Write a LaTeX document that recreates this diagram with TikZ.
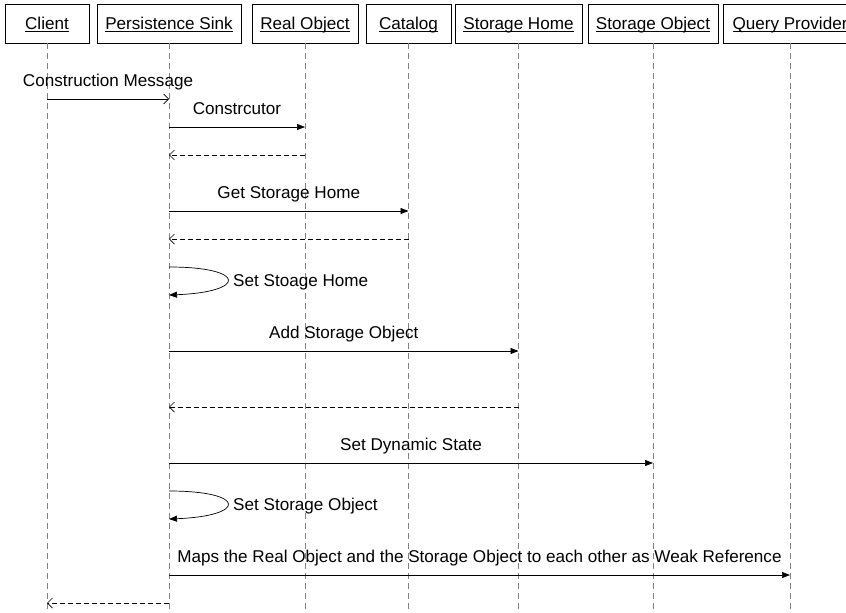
\documentclass[tikz,border=0pt]{standalone}
\usepackage{fontspec}
\setmainfont{Liberation Sans}
\usetikzlibrary{arrows.meta,calc}
\newcommand{\hdtext}[1]{\underline{\smash{#1}}}
\begin{document}
\begin{tikzpicture}[x=1pt,y=-1pt,
  txt/.style={font=\fontsize{17.1}{19}\selectfont},
  head/.style={txt,draw,line width=0.8pt,minimum height=39pt,inner sep=0pt,fill=white,text height=12.3pt,text depth=0pt},
  life/.style={draw=black!50,dash pattern=on 6pt off 4pt,line width=0.7pt},
  msg/.style={line width=0.7pt,-{Triangle[length=8pt,width=6pt]}},
  msgopen/.style={line width=0.7pt,-{Straight Barb[length=5pt,width=10pt]}},
  ret/.style={line width=0.7pt,dash pattern=on 5pt off 3pt,-{Straight Barb[length=5pt,width=10pt]}},
  lbl/.style={txt,anchor=base,yshift=13pt,inner sep=0pt,midway},
  slbl/.style={txt,anchor=base west,inner sep=0pt}
]
\useasboundingbox (0,0) rectangle (846,613);
\coordinate (bot) at (0,613);
% heads
\node[head,minimum width=84pt]  (cl) at (47,23.5)    {\hdtext{Client}};
\node[head,minimum width=144pt] (ps) at (169,23.5)   {\hdtext{Persistence Sink}};
\node[head,minimum width=106pt] (ro) at (305,23.5)   {\hdtext{Real Object}};
\node[head,minimum width=85pt]  (ca) at (408.5,23.5) {\hdtext{Catalog}};
\node[head,minimum width=127pt] (sh) at (518.5,23.5) {\hdtext{Storage Home}};
\node[head,minimum width=130pt] (so) at (653,23.5)   {\hdtext{Storage Object}};
\node[head,minimum width=134pt] (qp) at (790,23.5)   {\hdtext{Query Provider}};
% lifelines
\foreach \n in {cl,ps,ro,ca,sh,so,qp}{\draw[life] (\n.south) -- (\n.south |- bot);}
% message levels
\coordinate (m1) at (0,99);
\coordinate (m2) at (0,127);
\coordinate (m3) at (0,155);
\coordinate (m4) at (0,211);
\coordinate (m5) at (0,239);
\coordinate (m6a) at (0,267);
\coordinate (m6b) at (0,295);
\coordinate (m7) at (0,351);
\coordinate (m8) at (0,407);
\coordinate (m9) at (0,463);
\coordinate (m10a) at (0,491);
\coordinate (m10b) at (0,519);
\coordinate (m11) at (0,575);
\coordinate (m12) at (0,603);
% messages
\draw[msgopen] (cl |- m1) -- node[lbl]{Construction Message} (ps |- m1);
\draw[msg] (ps |- m2) -- node[lbl]{Constrcutor} (ro |- m2);
\draw[ret] (ro |- m3) -- (ps |- m3);
\draw[msg] (ps |- m4) -- node[lbl]{Get Storage Home} (ca |- m4);
\draw[ret] (ca |- m5) -- (ps |- m5);
\draw[msg] (ps |- m6a) .. controls +(78,0) and +(78,-3) .. (ps |- m6b);
\node[slbl] (l6) at ($(ps |- m6a)+(64,19.5)$) {Set Stoage Home};
\draw[msg] (ps |- m7) -- node[lbl]{Add Storage Object} (sh |- m7);
\draw[ret] (sh |- m8) -- (ps |- m8);
\draw[msg] (ps |- m9) -- node[lbl]{Set Dynamic State} (so |- m9);
\draw[msg] (ps |- m10a) .. controls +(78,0) and +(78,-3) .. (ps |- m10b);
\node[slbl] (l10) at ($(ps |- m10a)+(64,19.5)$) {Set Storage Object};
\draw[msg] (ps |- m11) -- node[lbl]{Maps the Real Object and the Storage Object to each other as Weak Reference} (qp |- m11);
\draw[ret] (ps |- m12) -- (cl |- m12);
\end{tikzpicture}
\end{document}
